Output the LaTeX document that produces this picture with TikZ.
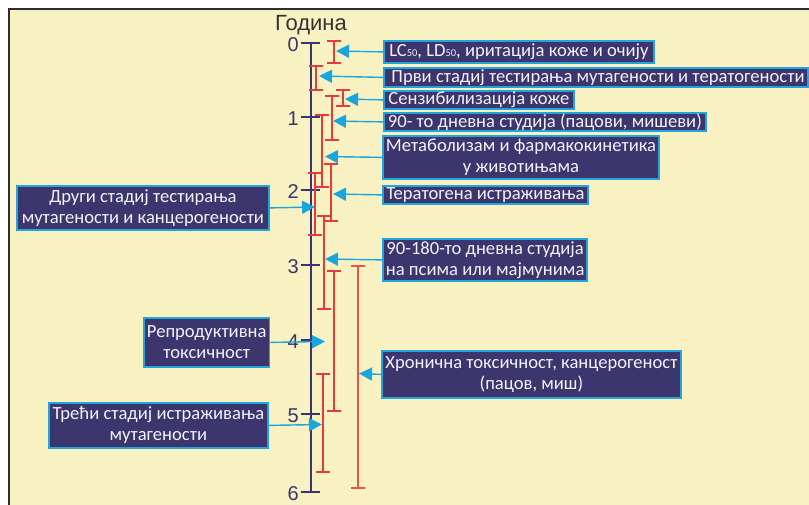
\documentclass[tikz,border=0pt]{standalone}
\usepackage{fontspec}
\setmainfont{Carlito}
\newfontfamily\axisfont{Liberation Sans}
\usetikzlibrary{arrows.meta}
\definecolor{bg}{HTML}{F8F1C2}
\definecolor{frame}{HTML}{2E2E2E}
\definecolor{boxfill}{HTML}{3C356E}
\definecolor{boxline}{HTML}{22A6DA}
\definecolor{boxtext}{HTML}{F2F2F6}
\definecolor{arrowc}{HTML}{18A6DC}
\definecolor{barred}{HTML}{E53B3A}
\definecolor{barorange}{HTML}{EA5545}
\definecolor{axisc}{HTML}{3A3470}
\definecolor{titlec}{HTML}{333333}
\newcommand{\subfifty}{{\fontsize{10.5}{10.5}\selectfont 50}}
\begin{document}
\begin{tikzpicture}[x=1pt,y=-1pt,
  box/.style={draw=boxline, line width=1.8pt, fill=boxfill, text=boxtext,
    font=\fontsize{18.6}{21}\selectfont, inner xsep=3pt, inner ysep=0pt,
    align=center, anchor=north west},
  arr/.style={draw=arrowc, line width=1.4pt, -{Triangle[length=13pt,width=13pt]}},
  rbar/.style={draw=barred, line width=2.2pt, {Bar[width=14pt]}-{Bar[width=14pt]}},
  axline/.style={draw=axisc, line width=2.2pt},
  axnum/.style={text=axisc, font=\axisfont\fontsize{20}{20}\selectfont, anchor=east, inner sep=0pt}
]
\useasboundingbox (0,0) rectangle (809,505);
\fill[bg] (9,9) rectangle (809,505);
\draw[frame, line width=2pt] (9,505) -- (9,9) -- (809,9);

% title
\node[text=titlec, font=\axisfont\fontsize{22}{22}\selectfont, anchor=base, inner sep=0pt] (title) at (311,30.5) {Година};

% axis
\draw[axline] (311,43) -- (311,492);
\foreach \v/\yy in {0/43,1/117,2/190,3/265,4/340,5/414,6/492}{
  \draw[axline] (301,\yy) -- (320,\yy);
  \node[axnum] (n\v) at (299,\yy+1.5) {\v};
}

% red bars
\draw[rbar] (334,40) -- (334,64);
\draw[rbar] (316,65) -- (316,91);
\draw[rbar] (343,89) -- (343,107);
\draw[rbar] (332,95) -- (332,141);
\draw[rbar] (322,114) -- (322,188);
\draw[rbar] (331,163) -- (331,222);
\draw[rbar] (315,172) -- (315,236);
\draw[rbar] (324,215) -- (324,310);
\draw[rbar] (334,270) -- (334,412);
\draw[rbar] (323,373) -- (323,473);
\draw[rbar, draw=barorange] (358,265) -- (358,489);

% boxes
\node[box, minimum width=270pt, minimum height=22pt] (b1) at (383,40) {LC\subfifty, LD\subfifty, иритација коже и очију};
\node[box, minimum width=424pt, minimum height=19pt] (b2) at (383,67) {\ Први стадиј тестирања мутагености и тератогености};
\node[box, minimum width=190pt, minimum height=18pt] (b3) at (383,90) {Сензибилизација коже};
\node[box, minimum width=322pt, minimum height=18pt] (b4) at (383,112) {90- то дневна студија (пацови, мишеви)};
\node[box, minimum width=276pt, minimum height=43pt] (b5) at (382,135) {Метаболизам и фармакокинетика\\у животињама};
\node[box, minimum width=205pt, minimum height=18pt] (b6) at (382,185) {Тератогена истраживања};
\node[box, minimum width=203pt, minimum height=42pt] (b7) at (382,238) {90-180-то дневна студија\\на псима или мајмунима};
\node[box, minimum width=252pt, minimum height=44pt] (b8) at (16,185) {Други стадиј тестирања\\мутагености и канцерогености};
\node[box, minimum width=124pt, minimum height=49pt] (b9) at (143,317) {Репродуктивна\\токсичност};
\node[box, minimum width=219pt, minimum height=45pt] (b10) at (48,402) {Трећи стадиј истраживања\\мутагености};
\node[box, minimum width=299pt, minimum height=47pt] (b11) at (381,350) {Хронична токсичност, канцерогеност\\(пацов, миш)};

% arrow tips
\coordinate (t1) at (336,51);
\coordinate (t2) at (319,76);
\coordinate (t3) at (345,99);
\coordinate (t4) at (333,121);
\coordinate (t5) at (325,156.5);
\coordinate (t6) at (333,194);
\coordinate (t7) at (325,259);
\coordinate (t8) at (315,207);
\coordinate (t9) at (325,341.5);
\coordinate (t10) at (322,424.5);
\coordinate (t11) at (359,373.5);

\draw[arr] (b1.west) -- (t1);
\draw[arr] (b2.west) -- (t2);
\draw[arr] (b3.west) -- (t3);
\draw[arr] (b4.west) -- (t4);
\draw[arr] (b5.west) -- (t5);
\draw[arr] (b6.west) -- (t6);
\draw[arr] (b7.west) -- (t7);
\draw[arr] (b8.east) -- (t8);
\draw[arr] (b9.east) -- (t9);
\draw[arr] (b10.east) -- (t10);
\draw[arr] (b11.west) -- (t11);
\end{tikzpicture}
\end{document}
